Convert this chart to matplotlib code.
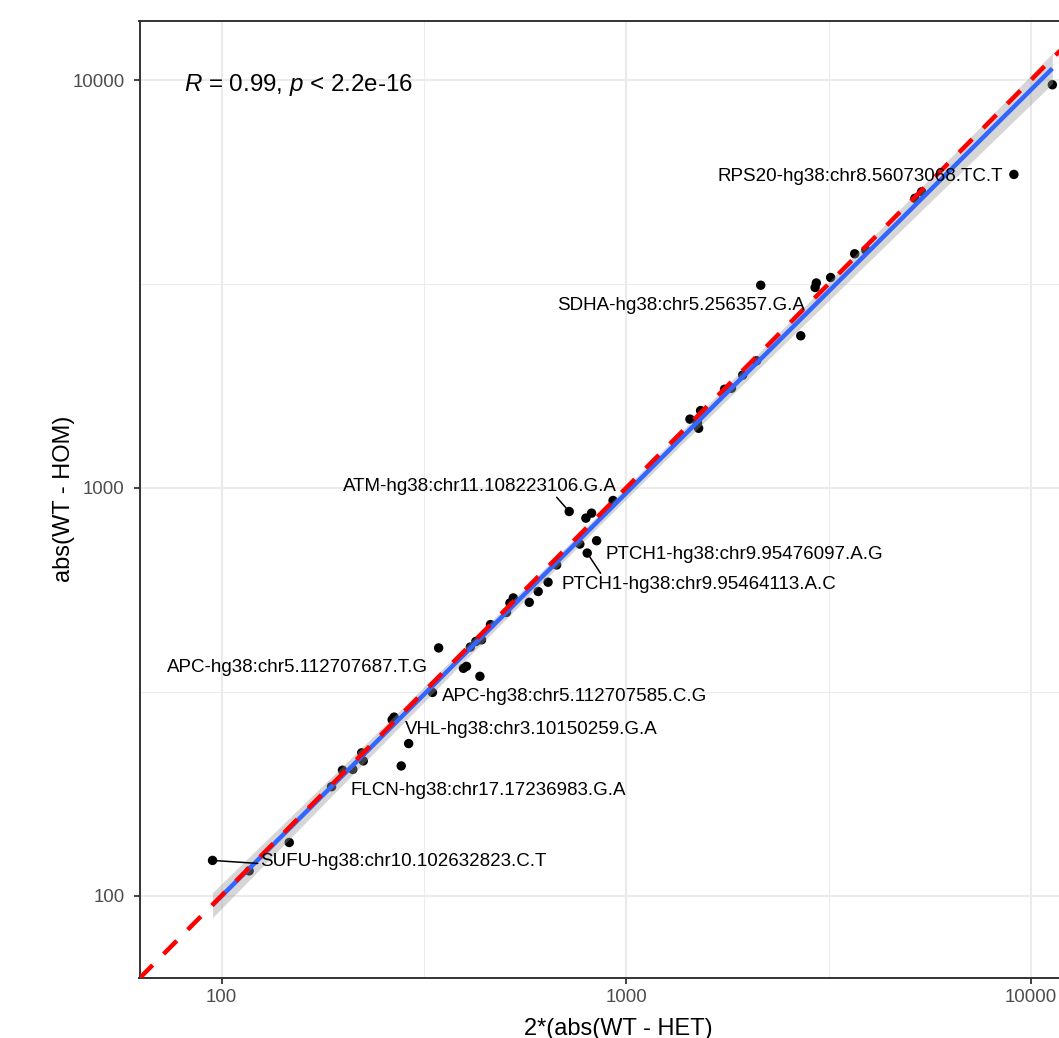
import numpy as np
import matplotlib
matplotlib.use("Agg")
import matplotlib.pyplot as plt
from matplotlib.ticker import FixedLocator, NullFormatter

plt.rcParams['font.family'] = ['Liberation Sans', 'DejaVu Sans']
plt.rcParams['mathtext.fontset'] = 'custom'
plt.rcParams['mathtext.rm'] = 'Liberation Sans'
plt.rcParams['mathtext.it'] = 'Liberation Sans:italic'

# ---- data ----
x_vals = [11300, 9080, 5170, 5370, 3670, 3910, 3200, 2150, 2930, 2950,
          2700, 2100, 1940, 1820, 1750, 1527, 1437, 1510, 1500, 723,
          795, 821, 928, 768, 845, 801, 673, 641, 606, 576,
          526, 516, 506, 462, 439, 425, 412, 344, 403, 396,
          435, 332, 267, 264, 290, 278, 222, 224, 211, 199,
          187, 147, 95, 117]
y_vals = [9740, 5870, 5130, 5320, 3750, 3830, 3280, 3140, 3100, 3180,
          2360, 2050, 1890, 1755, 1745, 1547, 1474, 1400, 1443, 875,
          843, 867, 931, 728, 742, 692, 647, 587, 557, 524,
          537, 522, 495, 462, 424, 420, 407, 405, 365, 361,
          345, 315, 274, 270, 236, 208, 224, 214, 204, 203,
          185, 135, 122, 115]

label_names = ["RPS20-hg38:chr8.56073068.TC.T",
               "SDHA-hg38:chr5.256357.G.A",
               "ATM-hg38:chr11.108223106.G.A",
               "PTCH1-hg38:chr9.95476097.A.G",
               "PTCH1-hg38:chr9.95464113.A.C",
               "APC-hg38:chr5.112707687.T.G",
               "APC-hg38:chr5.112707585.C.G",
               "VHL-hg38:chr3.10150259.G.A",
               "FLCN-hg38:chr17.17236983.G.A",
               "SUFU-hg38:chr10.102632823.C.T"]
label_point = [1, 7, 19, 24, 25, 37, 41, 42, 50, 52]

tick_vals = [100, 1000, 10000]
tick_labels = ["100", "1000", "10000"]
stat_text = r"$R$ = 0.99, $p$ < 2.2e-16"

# ---- label placement (offsets in pixels, alignment, segment anchor) ----
label_style = [
    dict(off=(-11, -7), ha='right', seg=None),
    dict(off=(44, -25), ha='right', seg=None),
    dict(off=(48, 21), ha='right', seg=(0.77, 0.0)),
    dict(off=(9, -18), ha='left', seg=None),
    dict(off=(-26, -36), ha='left', seg=(0.15, 1.0)),
    dict(off=(-11, -24), ha='right', seg=None),
    dict(off=(10, -9), ha='left', seg=None),
    dict(off=(11, -17), ha='left', seg=None),
    dict(off=(19, -8), ha='left', seg=None),
    dict(off=(48, -6), ha='left', seg=(0.0, 0.4)),
]

x = np.array(x_vals, float)
y = np.array(y_vals, float)

W, H = 1059, 1038
fig = plt.figure(figsize=(W / 100, H / 100), dpi=100)
ax = fig.add_axes([139.5 / W, 59.7 / H, (1090 - 139.5) / W, 957.8 / H])
ax.set_xscale('log')
ax.set_yscale('log')
lims = (62.7, 14000)
ax.set_xlim(lims)
ax.set_ylim(lims)

# grid
ax.xaxis.set_major_locator(FixedLocator(tick_vals))
ax.yaxis.set_major_locator(FixedLocator(tick_vals))
ax.set_xticklabels(tick_labels)
ax.set_yticklabels(tick_labels)
minor = [10 ** 2.5, 10 ** 3.5]
ax.xaxis.set_minor_locator(FixedLocator(minor))
ax.yaxis.set_minor_locator(FixedLocator(minor))
ax.xaxis.set_minor_formatter(NullFormatter())
ax.yaxis.set_minor_formatter(NullFormatter())
ax.grid(which='major', color='#EBEBEB', lw=1.5, zorder=0)
ax.grid(which='minor', color='#EBEBEB', lw=0.75, zorder=0)
ax.set_axisbelow(True)
ax.tick_params(which='minor', length=0)
ax.tick_params(which='major', length=4.3, width=1.3, color='#333333',
               labelsize=13.4, labelcolor='#4D4D4D')
ax.tick_params(axis='x', which='major', pad=3.5)
ax.tick_params(axis='y', which='major', pad=6.5)
for s in ['top', 'left', 'bottom']:
    ax.spines[s].set_color('#333333')
    ax.spines[s].set_linewidth(1.4)
ax.spines['right'].set_visible(False)

# points
ax.scatter(x, y, s=46, color='black', edgecolors='none', zorder=3)

# linear fit in log-log space with 95% CI band
lx, ly = np.log10(x), np.log10(y)
n = len(lx)
b1, b0 = np.polyfit(lx, ly, 1)
resid = ly - (b0 + b1 * lx)
s_err = np.sqrt(np.sum(resid ** 2) / (n - 2))
sxx = np.sum((lx - lx.mean()) ** 2)
df = n - 2
z = 1.959964
tq = z + (z ** 3 + z) / (4 * df) + (5 * z ** 5 + 16 * z ** 3 + 3 * z) / (96 * df ** 2)
gx = np.linspace(lx.min(), lx.max(), 100)
gy = b0 + b1 * gx
se = s_err * np.sqrt(1 / n + (gx - lx.mean()) ** 2 / sxx)
ax.fill_between(10 ** gx, 10 ** (gy - tq * se), 10 ** (gy + tq * se),
                color='#999999', alpha=0.4, lw=0, zorder=4)
ax.plot(10 ** gx, 10 ** gy, color='#3366FF', lw=3.2, zorder=5,
        solid_capstyle='butt')

# identity line
ax.axline((100, 100), (1000, 1000), color='#FF0000', lw=3.2,
          ls=(0, (4.2, 3.5)), dash_capstyle='butt', zorder=6)

# labels
for name, idx, st in zip(label_names, label_point, label_style):
    kw = {}
    if st['seg'] is not None:
        kw['arrowprops'] = dict(arrowstyle='-', color='black', lw=1.1,
                                shrinkA=0, shrinkB=3, relpos=st['seg'])
    ax.annotate(name, xy=(x[idx], y[idx]), xytext=st['off'],
                textcoords='offset pixels', ha=st['ha'], va='baseline',
                fontsize=13.5, color='black', zorder=7, **kw)

# stat annotation
fig.text(184 / W, 1 - 91 / H, stat_text, fontsize=17.4, ha='left',
         va='baseline', color='black')

# axis titles
fig.text(618 / W, 1 - 1035 / H, "2*(abs(WT - HET)", fontsize=17,
         ha='center', va='baseline', color='black')
fig.text(70 / W, 1 - 499 / H, "abs(WT - HOM)", fontsize=17, rotation=90,
         rotation_mode='anchor', ha='center', va='baseline', color='black')

fig.savefig("out.png", dpi=100, facecolor='white')
